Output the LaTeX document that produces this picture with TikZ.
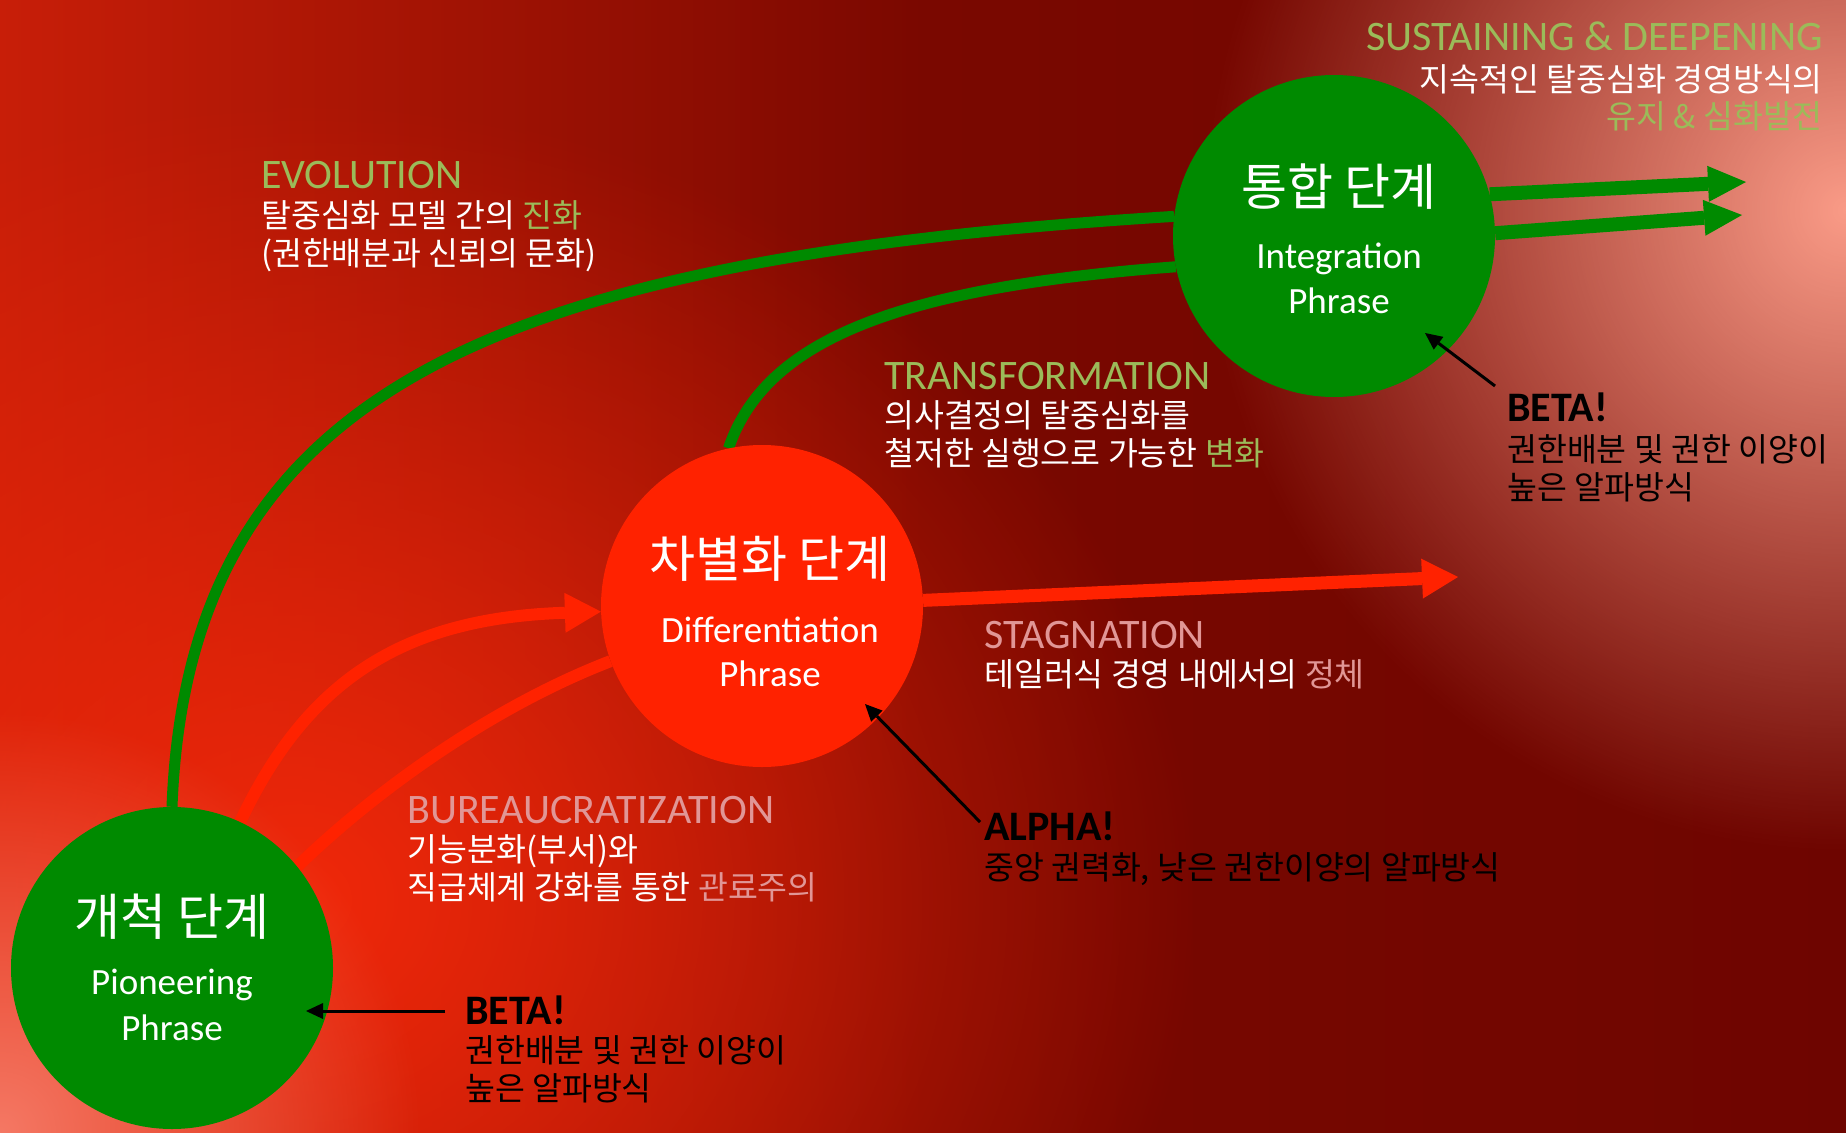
\documentclass[tikz,border=0pt]{standalone}
\usepackage{fontspec}
\setmainfont{Carlito}
\newfontfamily\kr{Noto Sans CJK KR}
\usetikzlibrary{arrows.meta,fadings}
\tikzfading[name=glowfade, inner color=transparent!0, outer color=transparent!100]
\definecolor{bgdark}{RGB}{110,5,0}
\definecolor{bgmid}{RGB}{122,8,0}
\definecolor{bgleft}{RGB}{200,30,8}
\definecolor{glowpink}{RGB}{250,155,135}
\definecolor{glowbl}{RGB}{245,120,100}
\definecolor{glowred}{RGB}{240,40,10}
\definecolor{cgreen}{RGB}{0,138,0}
\definecolor{cred}{RGB}{255,34,0}
\definecolor{hgreen}{RGB}{155,187,89}
\definecolor{hpink}{RGB}{225,150,150}
\pgfdeclarelayer{bglayer}
\pgfdeclarelayer{linelayer}
\pgfsetlayers{bglayer,linelayer,main}
\tikzset{
 stage/.style={circle, minimum size=322pt, inner sep=0pt, draw=none},
 gstage/.style={stage, fill=cgreen},
 rstage/.style={stage, fill=cred},
 headtxt/.style={anchor=base west, inner sep=0pt, font=\fontsize{42}{50}\selectfont},
 korw/.style={anchor=base west, inner sep=0pt, text=white, font=\kr\fontsize{32.5}{38}\selectfont},
 korb/.style={korw, text=black},
 bangtxt/.style={anchor=base west, inner sep=0pt, text=black, font=\bfseries\fontsize{42}{50}\selectfont},
 stitle/.style={anchor=base, inner sep=0pt, text=white, font=\kr\fontsize{50}{56}\selectfont},
 ssub/.style={anchor=base, inner sep=0pt, text=white, font=\fontsize{37}{44}\selectfont},
 gline/.style={draw=cgreen, line width=11pt},
 rline/.style={draw=cred, line width=12pt},
 garrow/.style={draw=cgreen, line width=14pt, -{Triangle[length=38pt,width=36pt,line width=0pt]}},
 rhead/.style={-{Triangle[length=36pt,width=40pt,line width=0pt]}},
 pointer/.style={draw=black, line width=3pt, -{Triangle[length=17pt,width=16pt,line width=0pt]}},
}
\begin{document}
\begin{tikzpicture}[x=1pt,y=-1pt]
\useasboundingbox (0,0) rectangle (1846,1132);
% background
\begin{pgfonlayer}{bglayer}
\begin{scope}
\clip (0,0) rectangle (1846,1132);
\shade[left color=bgleft, right color=bgdark, middle color=bgmid] (0,0) rectangle (1846,1132);
\fill[glowred, path fading=glowfade] (300,900) ellipse [x radius=900, y radius=800];
\fill[glowpink, path fading=glowfade] (1846,210) ellipse [x radius=640, y radius=640];
\fill[glowbl, path fading=glowfade] (0,1132) circle [radius=420];
\end{scope}
\end{pgfonlayer}

% stages
\node[gstage] (pion) at (172,968) {};
\node[rstage] (diff) at (762,606) {};
\node[gstage] (integ) at (1334,236) {};

\node[stitle] (pionT) at (172,935) {개척 단계};
\node[ssub] (pionS1) at (172,994) {Pioneering};
\node[ssub] (pionS2) at (172,1040) {Phrase};

\node[stitle] (diffT) at (770,577) {차별화 단계};
\node[ssub] (diffS1) at (770,642) {Differentiation};
\node[ssub] (diffS2) at (770,686) {Phrase};

\node[stitle] (integT) at (1339,205) {통합 단계};
\node[ssub] (integS1) at (1339,268) {Integration};
\node[ssub] (integS2) at (1339,313) {Phrase};

% connectors
\coordinate (tipS) at (1458,577);
\coordinate (tipG1) at (1746,182);
\coordinate (tipG2) at (1742,215);
\begin{pgfonlayer}{linelayer}
\draw[gline] (pion.north) .. controls (188,389) and (494,259) .. (integ.173);
\draw[gline] (diff.102) .. controls (765,341) and (895,288) .. (integ.191);
\draw[rline] (pion.39) .. controls (377,789) and (494,706) .. (diff.200);
\draw[rline, rhead] (pion.65) .. controls (306,683) and (400,618) .. (diff.182);
\draw[rline, line width=13pt, rhead] (diff.2) -- (tipS);
\draw[garrow] (integ.15) -- (tipG1);
\draw[garrow] (integ.1) -- (tipG2);
\end{pgfonlayer}

% pointers
\coordinate (pB1) at (445,1011);
\coordinate (pB1t) at (306,1011);
\coordinate (pA) at (980,822);
\coordinate (pAt) at (865,704);
\coordinate (pB2) at (1495,386);
\coordinate (pB2t) at (1425,333);
\draw[pointer] (pB1) -- (pB1t);
\draw[pointer] (pA) -- (pAt);
\draw[pointer] (pB2) -- (pB2t);

% texts
\node[headtxt, anchor=base east, text=hgreen] (susT) at (1823,51) {SUSTAINING \& DEEPENING};
\node[korw, anchor=base east] (sus1) at (1823,91) {지속적인 탈중심화 경영방식의};
\node[korw, anchor=base east, text=hgreen] (sus2) at (1823,128) {유지 \& 심화발전};

\node[headtxt, text=hgreen] (evoT) at (261,188) {EVOLUTION};
\node[korw] (evo1) at (261,227) {탈중심화 모델 간의 \textcolor{hgreen}{진화}};
\node[korw] (evo2) at (261,265) {(권한배분과 신뢰의 문화)};

\node[headtxt, text=hgreen] (traT) at (884,389) {TRANSFORMATION};
\node[korw] (tra1) at (884,427) {의사결정의 탈중심화를};
\node[korw] (tra2) at (884,465) {철저한 실행으로 가능한 \textcolor{hgreen}{변화}};

\node[headtxt, text=hpink] (staT) at (984,648) {STAGNATION};
\node[korw] (sta1) at (984,686) {테일러식 경영 내에서의 \textcolor{hpink}{정체}};

\node[headtxt, text=hpink] (burT) at (407,823) {BUREAUCRATIZATION};
\node[korw] (bur1) at (407,861) {기능분화(부서)와};
\node[korw] (bur2) at (407,899) {직급체계 강화를 통한 \textcolor{hpink}{관료주의}};

\node[bangtxt] (alT) at (984,840) {ALPHA!};
\node[korb] (al1) at (984,879) {중앙 권력화, 낮은 권한이양의 알파방식};

\node[bangtxt] (beRT) at (1507,421) {BETA!};
\node[korb] (beR1) at (1507,461) {권한배분 및 권한 이양이};
\node[korb] (beR2) at (1507,499) {높은 알파방식};

\node[bangtxt] (beBT) at (465,1024) {BETA!};
\node[korb] (beB1) at (465,1062) {권한배분 및 권한 이양이};
\node[korb] (beB2) at (465,1100) {높은 알파방식};
\end{tikzpicture}
\end{document}
